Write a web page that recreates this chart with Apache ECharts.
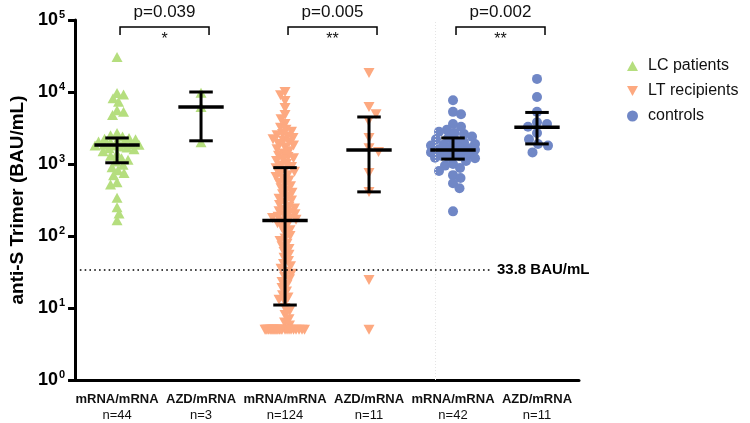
<!DOCTYPE html>
<html>
<head>
<meta charset="utf-8">
<script src="https://cdn.jsdelivr.net/npm/echarts@6/dist/echarts.min.js"></script>
<style>html,body{margin:0;padding:0;background:#fff;}#c{width:750px;height:423px;}</style>
</head>
<body>
<div id="c"></div>
<script>
// ---------- data ----------
const categories = ['mRNA/mRNA', 'AZD/mRNA', 'mRNA/mRNA', 'AZD/mRNA', 'mRNA/mRNA', 'AZD/mRNA'];
const groupN = [44, 3, 124, 11, 42, 11];
const seriesNames = ['LC patients', 'LT recipients', 'controls'];

const lcMrna = [30700, 9700, 9200, 8200, 7300, 5600, 5300, 4800, 2700, 2500, 2400,
  2300, 2250, 2200, 2100, 2050, 2000, 1950, 1900, 1850, 1850, 1800, 1800, 1750, 1700, 1650, 1600, 1500, 1400, 1300, 1200, 1150, 1080,
  980, 900, 820, 750, 700, 560, 520, 340, 250, 205, 165];
const lcAzd = [9800, 6200, 2000];
const ltMrna = [10000, 9000, 7500, 6000, 4800, 4200, 3600, 3200, 3000, 2800, 2600, 2500, 2400, 2300, 2200, 2100, 2000, 1900, 1800, 1700, 1600, 1500, 1400, 1300, 1250, 1200, 1150, 1100, 1000, 950, 910,
  870, 820, 780, 740, 700, 660, 620, 590, 550, 520, 490, 460, 430, 400, 380, 350, 330, 310, 290, 270, 255, 240, 230, 220, 210, 200, 190, 185, 178, 172, 168,
  160, 150, 140, 130, 120, 110, 100, 92, 85, 78, 72, 66, 60, 55, 50, 45, 41, 38, 35, 32, 30, 27, 25, 23, 21, 19, 17, 15, 14, 13, 12,
  10, 9, 8, 7, 6.3, 5.7, 5, 5, 5, 5, 5, 5, 5, 5, 5, 5, 5, 5, 5, 5, 5, 5, 5, 5, 5, 5, 5, 5, 5, 5, 5];
const ltAzd = [18300, 6200, 4900, 3950, 2300, 1650, 1470, 750, 410, 24.5, 5];
const ctrlMrna = [7700, 5300, 4900, 3600, 3300, 3000, 2800, 2700, 2600, 2400,
  2300, 2200, 2100, 2000, 1900, 1850, 1800, 1750, 1700, 1650, 1600, 1580, 1550, 1500, 1450, 1400, 1350, 1300, 1280, 1250, 1220, 1200,
  1100, 1000, 950, 880, 800, 700, 640, 540, 460, 220];
const ctrlAzd = [15200, 8500, 5300, 3800, 3600, 3300, 2700, 2200, 1900, 1800, 1450];

const medians = [1830, 6200, 164, 1560, 1570, 3250];
const q1s = [1040, 2100, 11, 410, 1170, 1900];
const q3s = [2300, 10000, 890, 4500, 2300, 5200];

const comparePairs = [[0, 1], [2, 3], [4, 5]];
const pLabels = ['p=0.039', 'p=0.005', 'p=0.002'];
const starLabels = ['*', '**', '**'];
const threshold = 33.8;
const thresholdLabel = '33.8 BAU/mL';

// ---------- layout / style ----------
const W = 750, H = 423;
const grid = { left: 75, right: 171, top: 20, bottom: 43 };
const pxPerDecade = (H - grid.top - grid.bottom) / 5;
const pxPerCat = (W - grid.left - grid.right) / 6;
const colors = ['#B5DE7E', '#FDA980', '#7087C6'];
const FONT = '"Liberation Sans", Arial, sans-serif';

// beeswarm offsets computed from values
function swarm(values, diam, maxHalf) {
  const pts = values.map((v, i) => ({ i, y: Math.log10(v) * pxPerDecade }));
  pts.sort((a, b) => b.y - a.y);
  const placed = [];
  const out = new Array(values.length);
  let flip = 1;
  for (const p of pts) {
    let chosen = null;
    for (let k = 0; k <= maxHalf && chosen === null; k += 0.5) {
      for (const s of (k === 0 ? [1] : [flip, -flip])) {
        const x = k * s;
        let ok = true;
        for (const q of placed) {
          if (Math.abs(q.y - p.y) < diam && Math.hypot(q.x - x, q.y - p.y) < diam) { ok = false; break; }
        }
        if (ok) { chosen = x; break; }
      }
    }
    if (chosen === null) {
      let best = -1;
      for (let x = -maxHalf; x <= maxHalf; x += 1) {
        let md = Infinity;
        for (const q of placed) md = Math.min(md, Math.hypot(q.x - x, q.y - p.y));
        if (md > best) { best = md; chosen = x; }
      }
    }
    flip = -flip;
    placed.push({ x: chosen, y: p.y });
    out[p.i] = chosen / pxPerCat;
  }
  return out;
}
function pts(values, idx, diam, maxHalf) {
  const off = swarm(values, diam, maxHalf);
  return values.map((v, i) => [idx + off[i], v]);
}

const lcData = pts(lcMrna, 0, 6.5, 22).concat(pts(lcAzd, 1, 6, 20));
const ltData = pts(ltMrna, 2, 5.5, 20).concat(pts(ltAzd, 3, 10, 20));
const ctrlData = pts(ctrlMrna, 4, 8, 22).concat(pts(ctrlAzd, 5, 10, 22));

const invTri = 'path://M0,0 L10,0 L5,9 Z';
const upTri = 'path://M5,0 L10,9 L0,9 Z';

const chart = echarts.init(document.getElementById('c'), null, { renderer: 'canvas' });
chart.setOption({
  animation: false,
  backgroundColor: '#fff',
  textStyle: { fontFamily: FONT },
  grid: grid,
  legend: {
    orient: 'vertical', left: 622, top: 53, itemWidth: 11, itemHeight: 11, itemGap: 9,
    data: seriesNames.map((n, i) => ({ name: n, icon: [upTri, invTri, 'circle'][i] })),
    textStyle: { fontSize: 16, color: '#111', padding: [0, 0, 0, 5], fontFamily: FONT }
  },
  xAxis: [{
    type: 'category', data: categories, boundaryGap: true,
    axisLine: { onZero: false, lineStyle: { color: '#000', width: 3 } },
    axisTick: { alignWithLabel: true, length: 7, lineStyle: { color: '#000', width: 3 } },
    axisLabel: {
      margin: 11, interval: 0,
      formatter: (v, i) => '{a|' + v + '}\n{b|n=' + groupN[i] + '}',
      rich: {
        a: { fontSize: 13, fontWeight: 'bold', color: '#111', lineHeight: 16, fontFamily: FONT },
        b: { fontSize: 13, color: '#111', lineHeight: 16, fontFamily: FONT }
      }
    }
  }, {
    type: 'value', min: -0.5, max: 5.5, show: false
  }],
  yAxis: {
    type: 'log', logBase: 10, min: 1, max: 100000,
    name: 'anti-S Trimer (BAU/mL)', nameLocation: 'middle', nameGap: 47,
    nameTextStyle: { fontSize: 19, fontWeight: 'bold', color: '#000', fontFamily: FONT },
    axisLine: { show: true, onZero: false, lineStyle: { color: '#000', width: 3 } },
    axisTick: { show: true, length: 7, lineStyle: { color: '#000', width: 3 } },
    minorTick: { show: false },
    splitLine: { show: false },
    axisLabel: {
      margin: 10,
      formatter: v => '{b|10}{s|' + Math.round(Math.log10(v)) + '}',
      rich: {
        b: { fontSize: 18, fontWeight: 'bold', color: '#000', fontFamily: FONT },
        s: { fontSize: 11, fontWeight: 'bold', color: '#000', padding: [0, 0, 10, 1], fontFamily: FONT }
      }
    }
  },
  series: [
    {
      name: seriesNames[0], type: 'scatter', xAxisIndex: 1, symbol: 'triangle', symbolSize: [11, 10],
      itemStyle: { color: colors[0], opacity: 1 }, data: lcData, z: 2,
      markLine: {
        silent: true, symbol: 'none', animation: false,
        data: [
          [{ coord: [-0.5, threshold], lineStyle: { color: '#000', width: 1.6, type: [1.6, 3.2] },
             label: { show: true, position: 'end', formatter: thresholdLabel, fontSize: 15, fontWeight: 'bold', color: '#000', distance: 7, fontFamily: FONT } },
           { coord: [4.44, threshold] }],
          [{ coord: [3.79, 1], lineStyle: { color: '#e4e4e4', width: 1, type: [1, 2] }, label: { show: false } },
           { coord: [3.79, 100000] }]
        ]
      }
    },
    {
      name: seriesNames[1], type: 'scatter', xAxisIndex: 1, symbol: invTri, symbolSize: [11, 10],
      itemStyle: { color: colors[1], opacity: 1 }, data: ltData, z: 2
    },
    {
      name: seriesNames[2], type: 'scatter', xAxisIndex: 1, symbol: 'circle', symbolSize: 10,
      itemStyle: { color: colors[2], opacity: 1 }, data: ctrlData, z: 2
    },
    {
      type: 'custom', xAxisIndex: 1, z: 5, silent: true, clip: false,
      data: medians.map((m, i) => [i, q1s[i], m, q3s[i]]),
      renderItem: (params, api) => {
        const gx = api.value(0);
        const lo = api.coord([gx, api.value(1)]);
        const md = api.coord([gx, api.value(2)]);
        const hi = api.coord([gx, api.value(3)]);
        const band = api.coord([gx + 1, api.value(2)])[0] - md[0];
        const cap = band * 0.14, mh = band * 0.27;
        const st = { stroke: '#000', lineWidth: 3 };
        return { type: 'group', children: [
          { type: 'line', shape: { x1: md[0], y1: hi[1], x2: md[0], y2: lo[1] }, style: st },
          { type: 'line', shape: { x1: md[0] - cap, y1: hi[1], x2: md[0] + cap, y2: hi[1] }, style: st },
          { type: 'line', shape: { x1: md[0] - cap, y1: lo[1], x2: md[0] + cap, y2: lo[1] }, style: st },
          { type: 'line', shape: { x1: md[0] - mh, y1: md[1], x2: md[0] + mh, y2: md[1] }, style: { stroke: '#000', lineWidth: 3.5 } }
        ] };
      }
    },
    {
      type: 'custom', xAxisIndex: 1, z: 6, silent: true, clip: false,
      data: comparePairs,
      renderItem: (params, api) => {
        const i = params.dataIndex;
        const l = api.coord([api.value(0), 100000]);
        const r = api.coord([api.value(1), 100000]);
        const y = l[1] + 7;
        const x1 = l[0] + 3, x2 = r[0] + 8;
        return { type: 'group', children: [
          { type: 'polyline', shape: { points: [[x1, y + 8], [x1, y], [x2, y], [x2, y + 8]] }, style: { stroke: '#000', lineWidth: 1.5, fill: null } },
          { type: 'text', style: { text: pLabels[i], x: (x1 + x2) / 2, y: y - 6, align: 'center', verticalAlign: 'bottom', fontSize: 17, fontFamily: FONT, fill: '#111' } },
          { type: 'text', style: { text: starLabels[i], x: (x1 + x2) / 2, y: y + 5, align: 'center', verticalAlign: 'top', fontSize: 16, fontFamily: FONT, fill: '#111' } }
        ] };
      }
    }
  ]
});
</script>
</body>
</html>
